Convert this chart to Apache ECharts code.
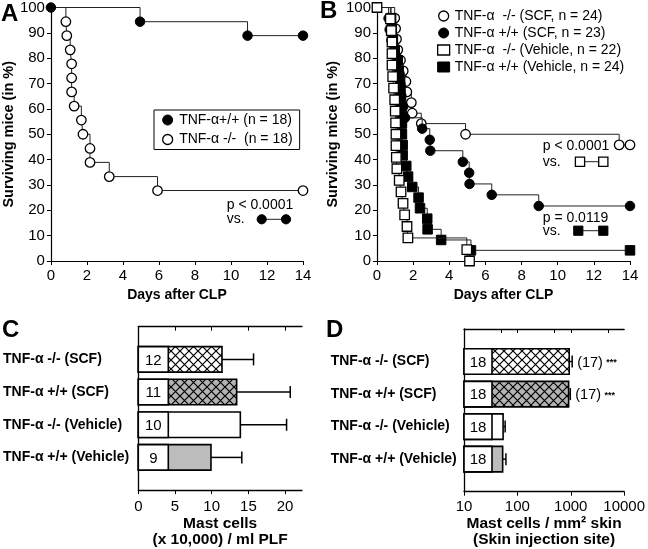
<!DOCTYPE html>
<html><head><meta charset="utf-8">
<script src="https://cdn.jsdelivr.net/npm/echarts@6/dist/echarts.min.js"></script>
<style>html,body{margin:0;padding:0;background:#fff}#c{width:648px;height:549px}</style>
</head><body><div id="c"></div>
<script>
const FONT = '"Liberation Sans", Arial, Helvetica, sans-serif';

// ---------- Panel A : Kaplan-Meier (days, % surviving) ----------
const aWtName = 'TNF-α+/+ (n = 18)';
const aKoName = 'TNF-α -/-  (n = 18)';
const aWt = [[0,100],[4.95,94.4],[10.92,88.9],[14,88.9]];
const aKo = [[0,100],[0.83,94.4],[0.88,88.9],[1.07,83.3],[1.15,77.8],[1.15,72.2],[1.15,66.7],[1.29,61.1],[1.69,55.6],[1.78,50],[2.17,44.4],[2.17,38.9],[3.24,33.3],[5.92,27.8],[14,27.8]];

// ---------- Panel B ----------
const bKoScfName = 'TNF-α  -/- (SCF, n = 24)';
const bWtScfName = 'TNF-α +/+ (SCF, n = 23)';
const bKoVehName = 'TNF-α  -/- (Vehicle, n = 22)';
const bWtVehName = 'TNF-α +/+ (Vehicle, n = 24)';
const bKoScf = [[0,100],[0.98,95.8],[1.03,91.7],[1.08,87.5],[1.15,83.3],[1.3,79.2],[1.45,75],[1.6,70.8],[1.65,66.7],[1.9,62.5],[1.95,58.3],[2.45,54.2],[4.9,50],[13.4,45.8],[14,45.8]];
const bWtScf = [[0,100],[0.64,95.7],[0.7,91.3],[0.8,87],[0.95,82.6],[1.1,78.3],[1.25,73.9],[1.3,69.6],[1.35,65.2],[1.45,60.9],[1.55,56.5],[2.5,52.2],[2.92,47.8],[2.95,43.5],[4.75,39.1],[5.1,34.8],[5.12,30.4],[6.35,26.1],[8.95,21.7],[14,21.7]];
const bKoVeh = [[0,100],[0.74,95.5],[0.79,90.9],[0.83,86.4],[0.83,81.8],[0.83,77.3],[0.87,72.7],[0.92,68.2],[0.98,63.6],[1.01,59.1],[1.03,54.5],[1.05,50],[1.05,45.5],[1.07,40.9],[1.1,36.4],[1.23,31.8],[1.33,27.3],[1.44,22.7],[1.53,18.2],[1.66,13.6],[1.71,9.1],[4.97,4.5],[5.12,0]];
const bWtVeh = [[0,100],[0.78,95.8],[0.82,91.7],[0.88,87.5],[0.98,83.3],[1.15,79.2],[1.2,75],[1.28,70.8],[1.3,66.7],[1.33,62.5],[1.36,58.3],[1.38,54.2],[1.38,50],[1.42,45.8],[1.42,41.7],[1.62,37.5],[1.72,33.3],[1.95,29.2],[2.3,25],[2.38,20.8],[2.78,16.7],[2.8,12.5],[3.55,8.3],[5.2,4.2],[14,4.2]];

// ---------- Panels C & D : bar categories ----------
const barCats = ['TNF-α -/- (SCF)','TNF-α +/+ (SCF)','TNF-α -/- (Vehicle)','TNF-α +/+ (Vehicle)'];
const cMean = [11.4, 13.4, 13.9, 9.9];
const cSem  = [4.3, 7.3, 6.3, 4.2];
const cN    = [12, 11, 10, 9];
const dMean = [935, 912, 54, 53];
const dSem  = [127, 68, 5, 8];
const dN    = [18, 18, 18, 18];
const dNote = ['(17) ***','(17) ***','',''];
const kmTicks = [0,2,4,6,8,10,12,14];
const cTicks = [0,5,10,15,20];

// ---------- styles ----------
function hatchTile(bg){
  const s=9, c=document.createElement('canvas'); c.width=s; c.height=s;
  const g=c.getContext('2d'); g.fillStyle=bg; g.fillRect(0,0,s,s);
  g.strokeStyle='#000'; g.lineWidth=1.2; g.beginPath();
  g.moveTo(-1,-1); g.lineTo(s+1,s+1); g.moveTo(s+1,-1); g.lineTo(-1,s+1); g.stroke();
  return c;
}
const rowFills = [{image:hatchTile('#ffffff'),repeat:'repeat'},{image:hatchTile('#b3b3b3'),repeat:'repeat'},'#ffffff','#bcbcbc'];

const txt = {color:'#000', fontFamily:FONT};
function kmX(gi){
  return {type:'value', gridIndex:gi, min:0, max:14, interval:2,
    axisLine:{show:true,lineStyle:{color:'#000',width:1.2}},
    axisTick:{show:true,length:4,lineStyle:{color:'#000',width:1}},
    axisLabel:Object.assign({fontSize:15,margin:7},txt), splitLine:{show:false},
    name:'Days after CLP', nameLocation:'middle', nameGap:27,
    nameTextStyle:Object.assign({fontWeight:'bold',fontSize:14},txt)};
}
function kmY(gi,gap){
  return {type:'value', gridIndex:gi, min:0, max:100, interval:10,
    axisLine:{show:true,lineStyle:{color:'#000',width:1.2}},
    axisTick:{show:true,length:4,lineStyle:{color:'#000',width:1}},
    axisLabel:Object.assign({fontSize:15,margin:6},txt), splitLine:{show:false},
    name:'Surviving mice (in %)', nameLocation:'middle', nameGap:gap,
    nameTextStyle:Object.assign({fontWeight:'bold',fontSize:14.5},txt)};
}
function km(name, data, gi, symbol, filled, z, startSym){
  return {type:'line', name, xAxisIndex:gi, yAxisIndex:gi, step:'end', silent:true,
    data:data.map((p,i)=> (i===0 && !startSym) ? {value:p, symbol:'none'} : p),
    symbol, symbolSize:9.5, showAllSymbol:true, clip:false,
    lineStyle:{color:'#222',width:1}, z,
    itemStyle:{color:filled?'#000':'#fff', borderColor:'#000', borderWidth:filled?1:1.3}};
}
function catY(gi, margin){
  return {type:'category', gridIndex:gi, data:[''].concat(barCats,['']), boundaryGap:false, inverse:true,
    axisLine:{show:true,lineStyle:{color:'#000',width:1.3}}, axisTick:{show:false},
    axisLabel:Object.assign({interval:0, align:'left', margin, fontSize:14, fontWeight:'bold'},txt)};
}
function barRender(mean, sem, ns, notes, minVal, boxW){
  return function(params, api){
    const i = params.dataIndex, yi = i+1, h = 25.5;
    const p0 = api.coord([minVal, yi]), p1 = api.coord([mean[i], yi]), pe = api.coord([mean[i]+sem[i], yi]);
    const y = p0[1];
    const kids = [
      {type:'line', shape:{x1:p1[0],y1:y,x2:pe[0],y2:y}, style:{stroke:'#000',lineWidth:1.5}},
      {type:'line', shape:{x1:pe[0],y1:y-6,x2:pe[0],y2:y+6}, style:{stroke:'#000',lineWidth:1.5}},
      {type:'rect', shape:{x:p0[0],y:y-h/2,width:p1[0]-p0[0],height:h}, style:{fill:rowFills[i],stroke:'#000',lineWidth:1.6}},
      {type:'rect', shape:{x:p0[0],y:y-h/2,width:boxW,height:h}, style:{fill:'#fff',stroke:'#000',lineWidth:1.6}},
      {type:'text', style:{text:String(ns[i]), x:p0[0]+boxW/2, y:y+1, align:'center', verticalAlign:'middle', fontSize:15, fontFamily:FONT, fill:'#000'}}
    ];
    if (notes && notes[i]) {
      const parts = notes[i].split(' ');
      kids.push({type:'text', style:{text:'{a|'+parts[0]+'} {b|'+parts[1]+'}', x:pe[0]+5, y:y+1, align:'left', verticalAlign:'middle',
        rich:{a:{fontSize:14.5,fontFamily:FONT,fill:'#000'}, b:{fontSize:9,fontWeight:'bold',fontFamily:FONT,fill:'#000'}}}});
    }
    return {type:'group', children:kids};
  };
}

const chart = echarts.init(document.getElementById('c'), null, {renderer:'canvas'});
const legendText = Object.assign({fontSize:14},txt);
const gText = (t,x,y,extra)=>({type:'text', x, y, style:Object.assign({text:t, fontSize:14, fontFamily:FONT, fill:'#000', verticalAlign:'middle', align:'left'}, extra||{})});
const gLine = (x1,x2,y)=>({type:'line', shape:{x1,y1:y,x2,y2:y}, style:{stroke:'#222',lineWidth:1}});
const gCirc = (x,y,f)=>({type:'circle', shape:{cx:x,cy:y,r:4.6}, style:{fill:f?'#000':'#fff',stroke:'#000',lineWidth:f?1:1.3}});
const gSq = (x,y,f)=>({type:'rect', shape:{x:x-4.6,y:y-4.6,width:9.2,height:9.2}, style:{fill:f?'#000':'#fff',stroke:'#000',lineWidth:f?1:1.3}});

chart.setOption({
  animation:false,
  backgroundColor:'#fff',
  textStyle:{fontFamily:FONT},
  grid:[
    {left:49, top:6, width:254, height:255},
    {left:377, top:7, width:253, height:254},
    {left:138.3, top:326.7, width:163.7, height:164},
    {left:464, top:329, width:163.3, height:162.7}
  ],
  xAxis:[
    kmX(0), kmX(1),
    {type:'value', gridIndex:2, min:0, max:22.3, splitLine:{show:false},
      axisLine:{show:true,lineStyle:{color:'#000',width:1.3}},
      axisTick:{show:true,length:4,customValues:cTicks,lineStyle:{color:'#000'}},
      axisLabel:Object.assign({fontSize:15,margin:9,customValues:cTicks},txt),
      name:'Mast cells\n(x 10,000) / ml PLF', nameLocation:'middle', nameGap:21,
      nameTextStyle:Object.assign({fontWeight:'bold',fontSize:15.5,lineHeight:16.5},txt)},
    {type:'value', gridIndex:2, position:'top', min:0, max:22.3, splitLine:{show:false},
      axisLine:{show:true,lineStyle:{color:'#000',width:1.3}},
      axisTick:{show:true,inside:true,length:4,customValues:[5,10,15,20],lineStyle:{color:'#000'}},
      axisLabel:{show:false}},
    {type:'log', logBase:10, gridIndex:3, min:10, max:10000, splitLine:{show:false},
      axisLine:{show:true,lineStyle:{color:'#000',width:1.3}},
      axisTick:{show:true,length:4,lineStyle:{color:'#000'}},
      axisLabel:Object.assign({fontSize:15,margin:8,formatter:(v)=>String(Math.round(v))},txt),
      name:'Mast cells / mm² skin\n(Skin injection site)', nameLocation:'middle', nameGap:20,
      nameTextStyle:Object.assign({fontWeight:'bold',fontSize:15.5,lineHeight:16},txt)},
    {type:'log', logBase:10, gridIndex:3, position:'top', min:10, max:10000, splitLine:{show:false},
      axisLine:{show:true,lineStyle:{color:'#000',width:1.3}},
      axisTick:{show:true,inside:true,length:4,customValues:[50,100,500,1000,5000],lineStyle:{color:'#000'}},
      axisLabel:{show:false}}
  ],
  yAxis:[ kmY(0,29), kmY(1,37), catY(2,135.3), catY(3,133.3) ],
  legend:[
    {left:154, top:110, orient:'vertical', selectedMode:false, borderColor:'#000', borderWidth:1,
      padding:[3,7,3,8], itemGap:5.5, itemWidth:13, itemHeight:10, textStyle:legendText,
      data:[{name:aWtName, icon:'circle', itemStyle:{color:'#000',borderColor:'#000',borderWidth:1}},
            {name:aKoName, icon:'circle', itemStyle:{color:'#fff',borderColor:'#000',borderWidth:1.3}}]},
    {left:437, top:9, orient:'vertical', selectedMode:false, padding:0,
      itemGap:3, itemWidth:12, itemHeight:10, textStyle:legendText,
      data:[{name:bKoScfName, icon:'circle', itemStyle:{color:'#fff',borderColor:'#000',borderWidth:1.3}},
            {name:bWtScfName, icon:'circle', itemStyle:{color:'#000',borderColor:'#000',borderWidth:1}},
            {name:bKoVehName, icon:'rect', itemStyle:{color:'#fff',borderColor:'#000',borderWidth:1.3}},
            {name:bWtVehName, icon:'rect', itemStyle:{color:'#000',borderColor:'#000',borderWidth:1}}]}
  ],
  series:[
    km(aKoName, aKo, 0, 'circle', false, 2, false),
    km(aWtName, aWt, 0, 'circle', true, 3, true),
    km(bKoScfName, bKoScf, 1, 'circle', false, 2, false),
    km(bWtScfName, bWtScf, 1, 'circle', true, 3, false),
    km(bWtVehName, bWtVeh, 1, 'rect', true, 4, false),
    km(bKoVehName, bKoVeh, 1, 'rect', false, 5, true),
    {type:'custom', xAxisIndex:2, yAxisIndex:2, silent:true, data:cMean.map((v,i)=>[v,i+1]),
      renderItem:barRender(cMean,cSem,cN,null,0,30), z:3},
    {type:'custom', xAxisIndex:4, yAxisIndex:3, silent:true, data:dMean.map((v,i)=>[v,i+1]),
      renderItem:barRender(dMean,dSem,dN,dNote,10,28), z:3}
  ],
  graphic:[
    gText('A', 1, 14, {fontSize:24, fontWeight:'bold'}),
    gText('B', 320, 11, {fontSize:24, fontWeight:'bold'}),
    gText('C', 2, 330, {fontSize:24, fontWeight:'bold'}),
    gText('D', 326, 330, {fontSize:24, fontWeight:'bold'}),
    gText('p < 0.0001', 226.7, 205), gText('vs.', 226.7, 219.3),
    gLine(261.7, 286, 219.3), gCirc(261.7, 219.3, true), gCirc(286, 219.3, true),
    gText('p < 0.0001', 542.7, 145.7), gText('vs.', 542.7, 161.7),
    gLine(580, 603.3, 161.7), gSq(580, 161.7, false), gSq(603.3, 161.7, false),
    gText('p = 0.0119', 542.7, 218.3), gText('vs.', 542.7, 230.7),
    gLine(578.3, 603.3, 230.7), gSq(578.3, 230.7, true), gSq(603.3, 230.7, true)
  ]
});
</script></body></html>
